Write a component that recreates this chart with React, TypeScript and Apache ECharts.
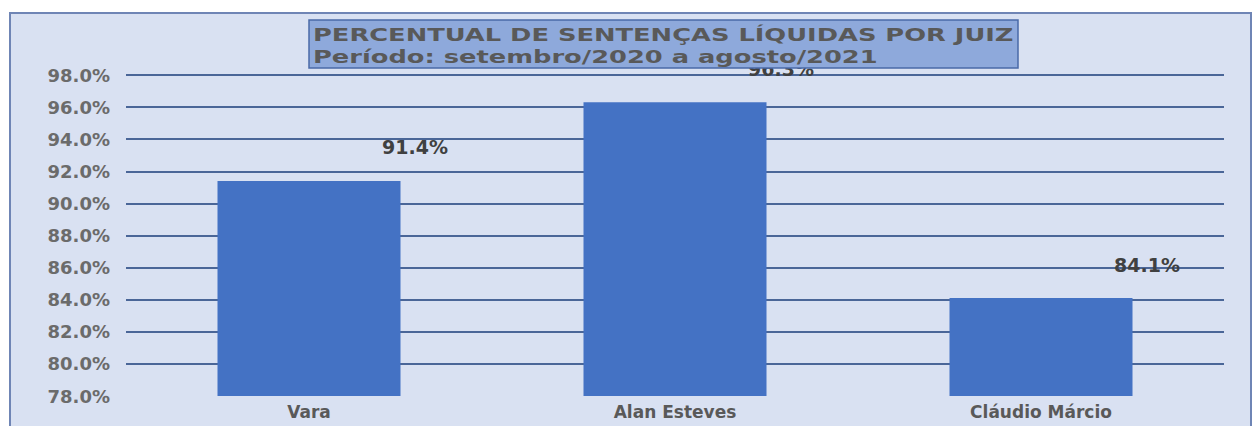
import React, { useEffect, useRef } from "react";
import * as echarts from "echarts";

const categories = ["Vara", "Alan Esteves", "Cláudio Márcio"];
const values = [91.4, 96.3, 84.1];
const titleLines = [
  "PERCENTUAL DE SENTENÇAS LÍQUIDAS POR JUIZ",
  "Período: setembro/2020 a agosto/2021",
];
const yMin = 78;
const yMax = 98;
const yStep = 2;

export default function App() {
  const ref = useRef<HTMLDivElement>(null);
  useEffect(() => {
    if (!ref.current) return;
    const chart = echarts.init(ref.current, undefined, { renderer: "svg" });
    const font = "'DejaVu Sans', sans-serif";
    const titleFont = "bold 18px 'DejaVu Sans', sans-serif";
    chart.setOption({
      animation: false,
      backgroundColor: "transparent",
      grid: { left: 126, right: 30, top: 75, bottom: 30, containLabel: false },
      xAxis: {
        type: "category",
        data: categories,
        axisLine: { show: false },
        axisTick: { show: false },
        axisLabel: {
          color: "#595959",
          fontFamily: font,
          fontWeight: "bold",
          fontSize: 17,
          margin: 7,
        },
      },
      yAxis: {
        type: "value",
        min: yMin,
        max: yMax,
        interval: yStep,
        axisLine: { show: false },
        axisTick: { show: false },
        splitLine: {
          show: true,
          showMinLine: false,
          lineStyle: { color: "#4A6698", width: 2 },
        },
        axisLabel: {
          color: "#6b6b6b",
          fontFamily: font,
          fontWeight: "bold",
          fontSize: 18,
          margin: 16,
          formatter: (v: number) => v.toFixed(1) + "%",
        },
      },
      series: [
        {
          type: "bar",
          data: values,
          barWidth: "50%",
          itemStyle: { color: "#4472C4" },
          label: {
            show: true,
            position: "top",
            offset: [106, -19],
            color: "#404040",
            fontFamily: font,
            fontWeight: "bold",
            fontSize: 19,
            formatter: (p: any) => p.value.toFixed(1) + "%",
          },
        },
      ],
      graphic: [
        {
          type: "rect",
          z: 100,
          shape: { x: 309, y: 20, width: 709, height: 48 },
          style: { fill: "#8EA9DB", stroke: "#4A69A8", lineWidth: 1.5 },
        },
        {
          type: "text",
          z: 101,
          x: 313,
          y: 35,
          scaleX: 1.43,
          style: {
            text: titleLines[0],
            fill: "#595959",
            font: titleFont,
            verticalAlign: "middle",
          },
        },
        {
          type: "text",
          z: 101,
          x: 313,
          y: 57,
          scaleX: 1.43,
          style: {
            text: titleLines[1],
            fill: "#595959",
            font: titleFont,
            verticalAlign: "middle",
          },
        },
      ],
    });
    return () => chart.dispose();
  }, []);
  return (
    <div style={{ position: "absolute", left: 0, top: 0, width: 1254, height: 426, background: "#fff", overflow: "hidden" }}>
      <div
        style={{
          position: "absolute",
          left: 9,
          top: 12,
          width: 1239,
          height: 430,
          background: "#D9E1F2",
          border: "2px solid #6F85B5",
        }}
      />
      <div ref={ref} style={{ position: "absolute", left: 0, top: 0, width: 1254, height: 426 }} />
    </div>
  );
}
